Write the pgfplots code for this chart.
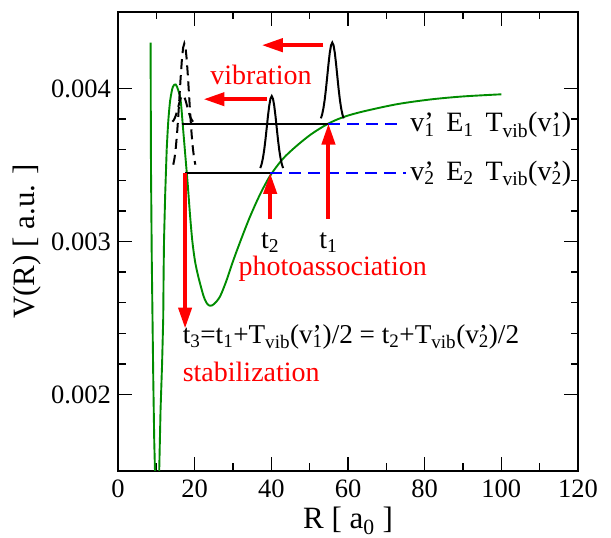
\documentclass[border=0pt]{standalone}
\usepackage{pgfplots}
\pgfplotsset{compat=1.18}
\usepackage{fontspec}
\setmainfont{Liberation Serif}
\usetikzlibrary{arrows.meta}
\definecolor{ggreen}{rgb}{0,0.55,0}
\newcommand{\vp}[1]{v\rlap{’}\textsubscript{#1}}
\begin{document}
\begin{tikzpicture}[x=1bp,y=1bp]
\begin{axis}[
  at={(118bp,67bp)}, anchor=south west,
  scale only axis, width=460bp, height=459bp,
  xmin=0, xmax=120, ymin=0.0015, ymax=0.0045,
  xtick={0,20,40,60,80,100,120},
  xticklabels={0,20,40,60,80,100,120},
  ytick={0.002,0.003,0.004},
  yticklabels={0.002,0.003,0.004},
  scaled y ticks=false,
  minor x tick num=1, minor y tick num=4,
  tick align=inside,
  major tick length=14bp, minor tick length=7.5bp,
  every tick/.style={black, line width=1.3bp},
  axis line style={line width=2bp},
  tick label style={font=\fontsize{26.5bp}{30bp}\selectfont, inner sep=0pt},
  xticklabel style={anchor=north, yshift=-9bp},
  yticklabel style={anchor=east, xshift=-7bp},
  xlabel={R [ a\textsubscript{0} ]},
  ylabel={V(R) [ a.u. ]},
  label style={font=\fontsize{31bp}{34bp}\selectfont, inner sep=0pt},
  xlabel style={at={(axis description cs:0.5,-0.125)}, anchor=base},
  ylabel style={at={(axis description cs:-0.198,0.5)}, anchor=center},
  clip=true,
]
% potential curve: inner wall and well
\addplot[ggreen, line width=1.9bp] coordinates {
(8.5,0.0043) (8.55,0.0039) (8.6,0.0035) (8.7,0.0032) (8.8,0.0029) (9.0,0.0025)
(9.2,0.0021) (9.45,0.0017) (9.65,0.0015) (9.9,0.0011) (10.2,0.0009) (10.5,0.0011)
(10.75,0.0015) (11.1,0.0019) (11.5,0.0022) (11.8,0.0025) (11.9,0.0028) (12.0,0.0030)
(12.3,0.0033) (12.7,0.0036)
};
% potential curve: barrier, outer well and long range part
\addplot[ggreen, line width=1.9bp, smooth, tension=0.5] coordinates {
(12.7,0.0036) (13.1,0.00378) (13.6,0.00392) (14.3,0.00401) (15.05,0.004026)
(15.7,0.00399) (16.35,0.00392) (17.0,0.00373) (17.6,0.00355) (18.2,0.00337) (18.8,0.00317)
(19.4,0.00300) (20.1,0.00287) (20.95,0.00277) (22.3,0.002645) (23.2,0.002595) (24.0,0.002580)
(25.0,0.002590) (26.6,0.002640) (28.3,0.002745) (30.1,0.002878) (32.2,0.003020) (34.4,0.00316)
(37.0,0.003305) (39.7,0.00343) (43.0,0.003540) (46.6,0.003625) (50.5,0.003703) (54.9,0.003771)
(59.0,0.003815) (64.0,0.003850) (72.7,0.003897) (81.4,0.003928) (90,0.003948) (100,0.003962)
};
% level lines
\addplot[black, line width=2bp] coordinates {(16.75,0.003771) (54.9,0.003771)};
\addplot[black, line width=2bp] coordinates {(17.5,0.003448) (39.7,0.003448)};
\addplot[blue, line width=2bp, dash pattern=on 12bp off 7bp] coordinates {(54.9,0.003771) (73.6,0.003771)};
\addplot[blue, line width=2bp, dash pattern=on 12bp off 7bp] coordinates {(39.7,0.003448) (75.1,0.003448)};
% wave packets
\addplot[black, line width=2bp] coordinates {
(52.93,0.003805) (53.26,0.003831) (53.59,0.003871) (53.92,0.003926) (54.25,0.003997) (54.58,0.004078)
(54.91,0.004160) (55.24,0.004233) (55.57,0.004282) (55.9,0.004300) (56.23,0.004282) (56.56,0.004233)
(56.89,0.004160) (57.22,0.004078) (57.55,0.003997) (57.88,0.003926) (58.21,0.003871) (58.54,0.003831)
(58.87,0.003805)};
\addplot[black, line width=2bp] coordinates {
(37.13,0.003480) (37.46,0.003505) (37.79,0.003543) (38.12,0.003595) (38.45,0.003662) (38.78,0.003739)
(39.11,0.003818) (39.44,0.003886) (39.77,0.003933) (40.1,0.003950) (40.43,0.003933) (40.76,0.003886)
(41.09,0.003818) (41.42,0.003739) (41.75,0.003662) (42.08,0.003595) (42.41,0.003543) (42.74,0.003505)
(43.07,0.003480)};
\addplot[black, line width=2bp, dash pattern=on 10bp off 6bp] coordinates {
(14.42,0.003502) (14.74,0.003544) (15.06,0.003608) (15.38,0.003697) (15.70,0.003809) (16.02,0.003939)
(16.34,0.004071) (16.66,0.004186) (16.98,0.004266) (17.30,0.004294) (17.62,0.004266) (17.94,0.004186)
(18.26,0.004071) (18.58,0.003939) (18.90,0.003809) (19.22,0.003697) (19.54,0.003608) (19.86,0.003544)
(20.18,0.003502)};
\addplot[black, line width=2bp, dash pattern=on 10bp off 6bp] coordinates {
(14.2,0.003783) (14.5,0.003792) (14.8,0.003806) (15.1,0.003825) (15.4,0.003850) (15.7,0.003878)
(16.0,0.003907) (16.3,0.003932) (16.6,0.003950) (16.9,0.003956) (17.2,0.003950) (17.5,0.003932)
(17.8,0.003907) (18.1,0.003878) (18.4,0.003850) (18.7,0.003825) (19.0,0.003806) (19.3,0.003792)
(19.6,0.003783)};
% red arrows
\addplot[red, line width=4bp, -{Triangle[length=21bp,width=13bp]}] coordinates {(39.7,0.00315) (39.7,0.003448)};
\addplot[red, line width=4bp, -{Triangle[length=21bp,width=13bp]}] coordinates {(54.9,0.00315) (54.9,0.003771)};
\addplot[red, line width=4bp, -{Triangle[length=21bp,width=13bp]}] coordinates {(53.6,0.004283) (37.5,0.004283)};
\addplot[red, line width=4bp, -{Triangle[length=21bp,width=13bp]}] coordinates {(38.8,0.00393) (22.3,0.00393)};
\addplot[red, line width=4bp, -{Triangle[length=21bp,width=13bp]}] coordinates {(17.5,0.003448) (17.5,0.002431)};
% texts
\begin{scope}[every node/.style={font=\fontsize{28bp}{30bp}\selectfont, inner sep=0pt}]
\node[red, anchor=center] at (axis cs:37.3,0.004087) {vibration};
\node[anchor=base] at (axis cs:39.7,0.002956) {t\textsubscript{2}};
\node[anchor=base] at (axis cs:54.9,0.002956) {t\textsubscript{1}};
\node[red, anchor=base west] at (axis cs:31.4,0.00278) {photoassociation};
\node[anchor=base west, font=\fontsize{27.2bp}{30bp}\selectfont] at (axis cs:16.85,0.002333) {t\textsubscript{3}=t\textsubscript{1}+T\textsubscript{vib}(\vp{1})/2 = t\textsubscript{2}+T\textsubscript{vib}(\vp{2})/2};
\node[red, anchor=base west] at (axis cs:16.85,0.002082) {stabilization};
\node[anchor=base west] at (axis cs:76.2,0.003716) {\vp{1}\hspace{0.42em}E\textsubscript{1}\hspace{0.42em}T\textsubscript{vib}(\vp{1})};
\node[anchor=base west] at (axis cs:76.2,0.003401) {\vp{2}\hspace{0.42em}E\textsubscript{2}\hspace{0.42em}T\textsubscript{vib}(\vp{2})};
\end{scope}
\end{axis}
\pgfresetboundingbox
\path (0,0) rectangle (611,538);
\end{tikzpicture}
\end{document}
